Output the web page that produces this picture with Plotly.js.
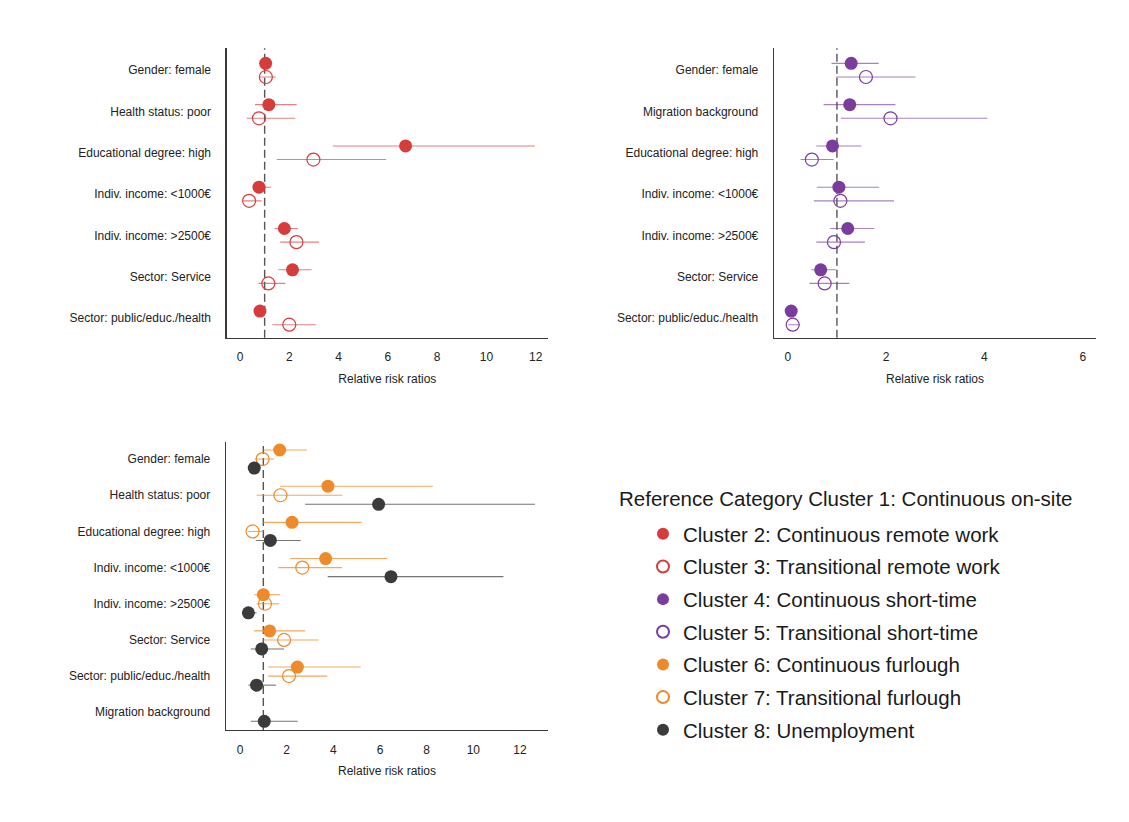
<!DOCTYPE html>
<html>
<head>
<meta charset="utf-8">
<script src="https://cdn.plot.ly/plotly-3.0.1.min.js"></script>
<style>
html,body{margin:0;padding:0;background:#fff;}
#chart{width:1129px;height:822px;}
</style>
</head>
<body>
<div id="chart"></div>
<script>
// ---------- Data ----------
const rowsA = ['Gender: female','Health status: poor','Educational degree: high','Indiv. income: <1000€','Indiv. income: >2500€','Sector: Service','Sector: public/educ./health'];
const c2Est = [1.04, 1.17, 6.72, 0.77, 1.80, 2.13, 0.81];
const c2Lo  = [0.90, 0.61, 3.77, 0.54, 1.40, 1.56, 0.66];
const c2Hi  = [1.22, 2.30, 11.97, 1.26, 2.34, 2.91, 1.05];
const c3Est = [1.05, 0.77, 2.98, 0.37, 2.29, 1.15, 2.00];
const c3Lo  = [0.79, 0.27, 1.49, 0.14, 1.63, 0.75, 1.31];
const c3Hi  = [1.46, 2.24, 5.93, 0.88, 3.21, 1.84, 3.08];

const rowsB = ['Gender: female','Migration background','Educational degree: high','Indiv. income: <1000€','Indiv. income: >2500€','Sector: Service','Sector: public/educ./health'];
const c4Est = [1.29, 1.26, 0.91, 1.04, 1.22, 0.67, 0.07];
const c4Lo  = [0.89, 0.73, 0.58, 0.59, 0.86, 0.48, 0.04];
const c4Hi  = [1.85, 2.19, 1.50, 1.86, 1.76, 0.98, 0.12];
const c5Est = [1.59, 2.09, 0.49, 1.07, 0.94, 0.75, 0.10];
const c5Lo  = [0.98, 1.08, 0.26, 0.53, 0.58, 0.44, 0.01];
const c5Hi  = [2.60, 4.06, 0.93, 2.16, 1.57, 1.25, 0.25];

const rowsC = ['Gender: female','Health status: poor','Educational degree: high','Indiv. income: <1000€','Indiv. income: >2500€','Sector: Service','Sector: public/educ./health','Migration background'];
const c6Est = [1.70, 3.77, 2.23, 3.67, 1.00, 1.27, 2.46, null];
const c6Lo  = [1.00, 1.71, 1.00, 2.14, 0.61, 0.60, 1.21, null];
const c6Hi  = [2.86, 8.26, 5.21, 6.31, 1.71, 2.79, 5.17, null];
const c7Est = [0.97, 1.73, 0.54, 2.67, 1.07, 1.89, 2.10, null];
const c7Lo  = [0.64, 0.71, 0.35, 1.64, 0.71, 1.00, 1.21, null];
const c7Hi  = [1.47, 4.39, 1.00, 4.37, 1.67, 3.36, 3.74, null];
const c8Est = [0.61, 5.94, 1.30, 6.47, 0.36, 0.93, 0.71, 1.04];
const c8Lo  = [0.45, 2.79, 0.69, 3.76, 0.14, 0.46, 0.36, 0.46];
const c8Hi  = [0.85, 12.64, 2.60, 11.29, 0.71, 1.89, 1.54, 2.47];

const tickA = [0, 2, 4, 6, 8, 10, 12];
const tickB = [0, 2, 4, 6];
const tickC = [0, 2, 4, 6, 8, 10, 12];

const names = {
  c2: 'Cluster 2: Continuous remote work',
  c3: 'Cluster 3: Transitional remote work',
  c4: 'Cluster 4: Continuous short-time',
  c5: 'Cluster 5: Transitional short-time',
  c6: 'Cluster 6: Continuous furlough',
  c7: 'Cluster 7: Transitional furlough',
  c8: 'Cluster 8: Unemployment'
};
const legendTitle = 'Reference Category Cluster 1: Continuous on-site';

// ---------- Styles ----------
const RED = '#d63c3c', RED_L = 'rgba(214,60,60,0.65)';
const PUR = '#7a3d9e', PUR_L = 'rgba(122,61,158,0.65)';
const ORA = '#ef8a2a', ORA_L = 'rgba(239,138,42,0.75)';
const GRY = '#3b3b3b', GRY_L = 'rgba(59,59,59,0.7)';
const FONT = 'Liberation Sans, Arial, sans-serif';

function trace(est, lo, hi, offset, color, lineColor, open, xa, ya, name, group) {
  const y = est.map((v, i) => i + offset);
  return {
    type: 'scatter', mode: 'markers', name: name, legendgroup: group,
    x: est, y: y, xaxis: xa, yaxis: ya,
    marker: open ? {symbol: 'circle-open', size: 13, color: color, line: {width: 1.2, color: color}}
                 : {symbol: 'circle', size: 13, color: color},
    error_x: {type: 'data', symmetric: false,
      array: est.map((v, i) => v == null ? null : hi[i] - v),
      arrayminus: est.map((v, i) => v == null ? null : v - lo[i]),
      color: lineColor, thickness: 1.1, width: 0},
    hoverinfo: 'x+name'
  };
}

const data = [
  trace(c2Est, c2Lo, c2Hi, -0.165, RED, RED_L, false, 'x', 'y', names.c2, 'g2'),
  trace(c3Est, c3Lo, c3Hi, 0.165, RED, RED_L, true, 'x', 'y', names.c3, 'g3'),
  trace(c4Est, c4Lo, c4Hi, -0.165, PUR, PUR_L, false, 'x2', 'y2', names.c4, 'g4'),
  trace(c5Est, c5Lo, c5Hi, 0.165, PUR, PUR_L, true, 'x2', 'y2', names.c5, 'g5'),
  trace(c6Est, c6Lo, c6Hi, -0.25, ORA, ORA_L, false, 'x3', 'y3', names.c6, 'g6'),
  trace(c7Est, c7Lo, c7Hi, 0.0, ORA, ORA_L, true, 'x3', 'y3', names.c7, 'g7'),
  trace(c8Est, c8Lo, c8Hi, 0.25, GRY, GRY_L, false, 'x3', 'y3', names.c8, 'g8')
];

const W = 1129, H = 822;
const dx = (a, b) => [a / W, b / W];
const dy = (top, bot) => [1 - bot / H, 1 - top / H];

function xax(domain, range, ticks, anchor) {
  return {
    domain: domain, range: range, anchor: anchor,
    tickvals: ticks, ticktext: ticks.map(String),
    showgrid: false, zeroline: false, showline: true, linecolor: '#3a3a3a', linewidth: 1.3,
    ticks: '', ticklabelstandoff: 8,
    tickfont: {family: FONT, size: 12, color: '#222'},
    title: {text: 'Relative risk ratios', font: {family: FONT, size: 12, color: '#222'}, standoff: 11}
  };
}
function yax(domain, range, rows, anchor) {
  return {
    domain: domain, range: range, anchor: anchor,
    tickvals: rows.map((r, i) => i), ticktext: rows,
    showgrid: false, zeroline: false, showline: true, linecolor: '#3a3a3a', linewidth: 1.3,
    ticks: '', ticklabelstandoff: 12,
    tickfont: {family: FONT, size: 12, color: '#222'}
  };
}

function refLine(xa, ya) {
  return {type: 'line', xref: xa, yref: ya + ' domain', x0: 1, x1: 1, y0: 0, y1: 1,
          line: {color: '#555', width: 1.4, dash: '8px,4px'}, layer: 'below'};
}

const layout = {
  width: W, height: H,
  margin: {l: 0, r: 0, t: 0, b: 0},
  paper_bgcolor: '#fff', plot_bgcolor: '#fff',
  font: {family: FONT, color: '#222'},
  xaxis: xax(dx(226.7, 548), [-0.54, 12.5], tickA, 'y'),
  yaxis: yax(dy(48.3, 337.7), [6.48, -0.53], rowsA, 'x'),
  xaxis2: xax(dx(774, 1096), [-0.28, 6.27], tickB, 'y2'),
  yaxis2: yax(dy(48.3, 337.7), [6.48, -0.53], rowsB, 'x2'),
  xaxis3: xax(dx(226, 548), [-0.6, 13.2], tickC, 'y3'),
  yaxis3: yax(dy(441.7, 730), [7.49, -0.48], rowsC, 'x3'),
  shapes: [refLine('x', 'y'), refLine('x2', 'y2'), refLine('x3', 'y3')],
  showlegend: true,
  legend: {
    x: 643 / W, y: 1 - 514 / H, xanchor: 'left', yanchor: 'top',
    font: {family: FONT, size: 20.5, color: '#1a1a1a'},
    traceorder: 'grouped', tracegroupgap: 3, itemsizing: 'constant',
    bgcolor: 'rgba(0,0,0,0)'
  },
  annotations: [{
    text: legendTitle, xref: 'paper', yref: 'paper',
    x: 617 / W, y: 1 - 498 / H, xanchor: 'left', yanchor: 'middle', showarrow: false,
    font: {family: FONT, size: 20.5, color: '#1a1a1a'}
  }]
};

Plotly.newPlot('chart', data, layout, {displayModeBar: false, staticPlot: true});
</script>
</body>
</html>
